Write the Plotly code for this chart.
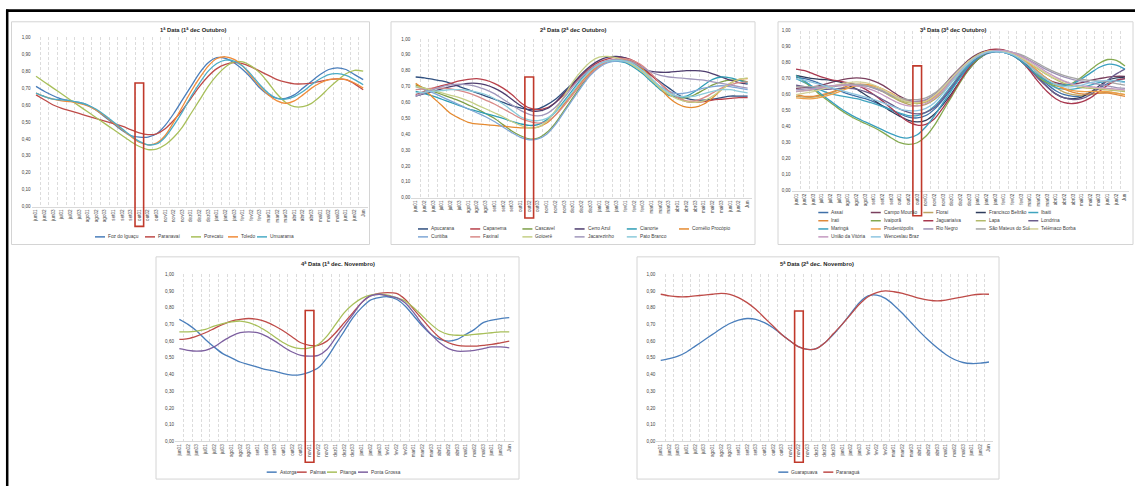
import plotly.graph_objects as go

W, H = 1135, 489

# ---------------- DATA ----------------
decendios = ["jun01", "jun02", "jun03", "jul01", "jul02", "jul03", "ago01", "ago02", "ago03",
             "set01", "set02", "set03", "out01", "out02", "out03", "nov01", "nov02", "nov03",
             "dez01", "dez02", "dez03", "jan01", "jan02", "jan03", "fev01", "fev02", "fev03",
             "mar01", "mar02", "mar03", "abr01", "abr02", "abr03", "mai01", "mai02", "mai03",
             "jun01", "jun02", "Jun"]
y_ticks = [0.0, 0.1, 0.2, 0.3, 0.4, 0.5, 0.6, 0.7, 0.8, 0.9, 1.0]

titles = ["1ª Data (1ª dec Outubro)", "2ª Data (2ª dec Outubro)", "3ª Data (3ª dec Outubro)",
          "4ª Data (1ª dec. Novembro)", "5ª Data (2ª dec. Novembro)"]
sowing = ["out01", "out02", "out03", "nov01", "nov02"]

# Chart 1
c1_names = ["Foz do Iguaçu", "Paranavaí", "Porecatu", "Toledo", "Umuarama"]
foz_do_iguacu = [0.71, 0.68, 0.655, 0.635, 0.625, 0.615, 0.60, 0.57, 0.53, 0.49, 0.45, 0.42, 0.41, 0.41, 0.43, 0.48, 0.55, 0.63, 0.71, 0.79, 0.85, 0.88, 0.875, 0.85, 0.81, 0.76, 0.70, 0.66, 0.64, 0.64, 0.66, 0.70, 0.74, 0.78, 0.81, 0.82, 0.81, 0.78, 0.75]
paranavai = [0.66, 0.63, 0.60, 0.58, 0.565, 0.55, 0.535, 0.52, 0.505, 0.49, 0.475, 0.455, 0.435, 0.425, 0.43, 0.46, 0.51, 0.57, 0.64, 0.71, 0.77, 0.815, 0.84, 0.85, 0.845, 0.825, 0.80, 0.775, 0.75, 0.735, 0.725, 0.725, 0.73, 0.74, 0.75, 0.755, 0.75, 0.725, 0.69]
porecatu = [0.77, 0.735, 0.70, 0.665, 0.63, 0.595, 0.56, 0.525, 0.49, 0.455, 0.42, 0.385, 0.355, 0.337, 0.34, 0.365, 0.41, 0.47, 0.55, 0.63, 0.71, 0.775, 0.825, 0.855, 0.855, 0.83, 0.79, 0.73, 0.665, 0.615, 0.59, 0.59, 0.61, 0.65, 0.70, 0.745, 0.785, 0.805, 0.80]
toledo = [0.67, 0.65, 0.635, 0.625, 0.62, 0.61, 0.595, 0.57, 0.535, 0.495, 0.455, 0.415, 0.38, 0.365, 0.375, 0.42, 0.50, 0.59, 0.68, 0.76, 0.83, 0.875, 0.885, 0.87, 0.83, 0.77, 0.71, 0.66, 0.625, 0.61, 0.625, 0.66, 0.70, 0.73, 0.75, 0.755, 0.75, 0.73, 0.70]
umuarama = [0.67, 0.65, 0.635, 0.63, 0.625, 0.615, 0.60, 0.575, 0.54, 0.50, 0.46, 0.42, 0.385, 0.365, 0.37, 0.41, 0.48, 0.56, 0.65, 0.73, 0.80, 0.845, 0.865, 0.86, 0.83, 0.78, 0.72, 0.67, 0.64, 0.635, 0.65, 0.68, 0.72, 0.755, 0.78, 0.785, 0.775, 0.75, 0.72]

# Chart 2
c2_names = ["Apucarana", "Capanema", "Cascavel", "Cerro Azul", "Cianorte", "Cornélio Procópio",
            "Curitiba", "Faxinal", "Goioerê", "Jacarezinho", "Pato Branco"]
apucarana = [0.76, 0.755, 0.745, 0.735, 0.72, 0.70, 0.68, 0.66, 0.64, 0.62, 0.60, 0.58, 0.565, 0.555, 0.56, 0.585, 0.62, 0.67, 0.72, 0.77, 0.81, 0.84, 0.86, 0.865, 0.86, 0.84, 0.81, 0.77, 0.73, 0.69, 0.65, 0.625, 0.615, 0.615, 0.62, 0.63, 0.64, 0.64, 0.64]
capanema = [0.65, 0.67, 0.69, 0.705, 0.72, 0.735, 0.745, 0.75, 0.74, 0.72, 0.69, 0.65, 0.60, 0.565, 0.555, 0.565, 0.60, 0.65, 0.71, 0.77, 0.82, 0.855, 0.875, 0.885, 0.88, 0.86, 0.82, 0.77, 0.72, 0.67, 0.63, 0.605, 0.60, 0.605, 0.615, 0.62, 0.625, 0.63, 0.63]
cascavel = [0.71, 0.69, 0.67, 0.65, 0.63, 0.61, 0.585, 0.56, 0.53, 0.50, 0.46, 0.42, 0.39, 0.37, 0.375, 0.41, 0.47, 0.55, 0.63, 0.71, 0.78, 0.83, 0.86, 0.865, 0.855, 0.83, 0.79, 0.74, 0.69, 0.65, 0.63, 0.63, 0.65, 0.68, 0.71, 0.73, 0.74, 0.74, 0.73]
cerro_azul = [0.64, 0.655, 0.67, 0.685, 0.70, 0.71, 0.72, 0.72, 0.71, 0.69, 0.66, 0.62, 0.58, 0.55, 0.545, 0.56, 0.60, 0.66, 0.72, 0.78, 0.83, 0.865, 0.885, 0.89, 0.88, 0.85, 0.81, 0.795, 0.79, 0.79, 0.795, 0.80, 0.80, 0.795, 0.78, 0.76, 0.74, 0.725, 0.715]
cianorte = [0.67, 0.655, 0.64, 0.62, 0.60, 0.58, 0.56, 0.545, 0.53, 0.515, 0.50, 0.48, 0.465, 0.455, 0.46, 0.49, 0.54, 0.61, 0.68, 0.75, 0.80, 0.84, 0.86, 0.86, 0.85, 0.82, 0.78, 0.73, 0.68, 0.645, 0.635, 0.64, 0.67, 0.71, 0.745, 0.76, 0.755, 0.74, 0.72]
cornelio_procopio = [0.72, 0.68, 0.63, 0.58, 0.53, 0.50, 0.475, 0.465, 0.46, 0.455, 0.45, 0.445, 0.44, 0.44, 0.445, 0.47, 0.52, 0.59, 0.66, 0.73, 0.79, 0.83, 0.86, 0.87, 0.87, 0.85, 0.81, 0.75, 0.69, 0.63, 0.59, 0.57, 0.57, 0.59, 0.63, 0.68, 0.72, 0.745, 0.75]
curitiba = [0.70, 0.68, 0.66, 0.635, 0.61, 0.585, 0.56, 0.535, 0.51, 0.48, 0.445, 0.41, 0.38, 0.365, 0.37, 0.40, 0.46, 0.54, 0.62, 0.70, 0.77, 0.82, 0.85, 0.86, 0.855, 0.83, 0.79, 0.74, 0.70, 0.67, 0.655, 0.66, 0.675, 0.69, 0.70, 0.705, 0.70, 0.69, 0.68]
faxinal = [0.68, 0.685, 0.69, 0.69, 0.685, 0.675, 0.66, 0.64, 0.615, 0.59, 0.56, 0.53, 0.50, 0.48, 0.47, 0.48, 0.52, 0.58, 0.65, 0.72, 0.78, 0.83, 0.86, 0.875, 0.875, 0.86, 0.83, 0.78, 0.72, 0.67, 0.63, 0.61, 0.61, 0.63, 0.66, 0.69, 0.71, 0.725, 0.73]
goioere = [0.70, 0.69, 0.675, 0.66, 0.645, 0.63, 0.61, 0.585, 0.56, 0.535, 0.51, 0.48, 0.455, 0.44, 0.445, 0.48, 0.55, 0.64, 0.73, 0.80, 0.855, 0.885, 0.89, 0.88, 0.86, 0.83, 0.79, 0.74, 0.69, 0.65, 0.62, 0.605, 0.60, 0.61, 0.64, 0.68, 0.72, 0.745, 0.755]
jacarezinho = [0.64, 0.66, 0.68, 0.70, 0.71, 0.715, 0.71, 0.70, 0.68, 0.655, 0.62, 0.585, 0.55, 0.525, 0.515, 0.53, 0.57, 0.63, 0.70, 0.76, 0.81, 0.845, 0.865, 0.87, 0.865, 0.85, 0.82, 0.79, 0.77, 0.76, 0.755, 0.75, 0.745, 0.74, 0.73, 0.72, 0.71, 0.70, 0.69]
pato_branco = [0.66, 0.665, 0.67, 0.675, 0.68, 0.68, 0.675, 0.665, 0.65, 0.625, 0.59, 0.55, 0.51, 0.49, 0.485, 0.50, 0.54, 0.60, 0.67, 0.74, 0.80, 0.84, 0.86, 0.865, 0.86, 0.84, 0.80, 0.75, 0.70, 0.66, 0.64, 0.635, 0.64, 0.655, 0.67, 0.68, 0.68, 0.67, 0.66]

# Chart 3
c3_names = ["Assaí", "Campo Mourão", "Floraí", "Francisco Beltrão", "Ibaiti",
            "Irati", "Ivaiporã", "Jaguariaíva", "Lapa", "Londrina",
            "Maringá", "Prudentópolis", "Rio Negro", "São Mateus do Sul", "Telêmaco Borba",
            "União da Vitória", "Wenceslau Braz"]
assai = [0.71, 0.70, 0.685, 0.665, 0.645, 0.625, 0.605, 0.59, 0.575, 0.555, 0.53, 0.505, 0.48, 0.46, 0.455, 0.47, 0.51, 0.57, 0.64, 0.71, 0.77, 0.82, 0.855, 0.87, 0.87, 0.85, 0.81, 0.76, 0.71, 0.665, 0.625, 0.60, 0.59, 0.595, 0.615, 0.64, 0.67, 0.69, 0.70]
campo_mourao = [0.64, 0.645, 0.65, 0.66, 0.675, 0.69, 0.70, 0.705, 0.70, 0.685, 0.66, 0.625, 0.59, 0.565, 0.555, 0.565, 0.60, 0.655, 0.715, 0.77, 0.82, 0.855, 0.875, 0.88, 0.875, 0.855, 0.82, 0.78, 0.74, 0.70, 0.675, 0.665, 0.665, 0.675, 0.69, 0.70, 0.71, 0.715, 0.715]
florai = [0.59, 0.585, 0.585, 0.595, 0.61, 0.63, 0.645, 0.655, 0.655, 0.645, 0.62, 0.59, 0.56, 0.54, 0.53, 0.54, 0.57, 0.62, 0.68, 0.74, 0.80, 0.845, 0.87, 0.88, 0.875, 0.855, 0.82, 0.78, 0.73, 0.685, 0.645, 0.615, 0.60, 0.595, 0.60, 0.61, 0.615, 0.61, 0.60]
francisco_beltrao = [0.72, 0.71, 0.70, 0.695, 0.69, 0.68, 0.66, 0.635, 0.60, 0.565, 0.53, 0.495, 0.465, 0.44, 0.43, 0.44, 0.48, 0.54, 0.61, 0.69, 0.76, 0.82, 0.86, 0.875, 0.875, 0.855, 0.82, 0.765, 0.705, 0.65, 0.605, 0.58, 0.575, 0.585, 0.615, 0.655, 0.69, 0.705, 0.71]
ibaiti = [0.70, 0.675, 0.65, 0.625, 0.605, 0.595, 0.585, 0.575, 0.56, 0.545, 0.525, 0.505, 0.485, 0.47, 0.47, 0.49, 0.53, 0.59, 0.66, 0.73, 0.79, 0.835, 0.86, 0.87, 0.865, 0.845, 0.81, 0.76, 0.715, 0.675, 0.645, 0.635, 0.635, 0.645, 0.66, 0.675, 0.685, 0.69, 0.68]
irati = [0.60, 0.59, 0.59, 0.60, 0.615, 0.635, 0.655, 0.665, 0.665, 0.655, 0.635, 0.605, 0.575, 0.555, 0.545, 0.555, 0.59, 0.64, 0.70, 0.76, 0.81, 0.845, 0.865, 0.875, 0.87, 0.85, 0.82, 0.78, 0.74, 0.70, 0.665, 0.635, 0.615, 0.605, 0.605, 0.61, 0.61, 0.60, 0.59]
ivaipora = [0.72, 0.68, 0.635, 0.59, 0.55, 0.51, 0.475, 0.445, 0.42, 0.395, 0.365, 0.33, 0.30, 0.29, 0.30, 0.34, 0.41, 0.50, 0.59, 0.68, 0.76, 0.82, 0.86, 0.875, 0.87, 0.85, 0.81, 0.76, 0.71, 0.675, 0.655, 0.655, 0.675, 0.71, 0.755, 0.795, 0.82, 0.815, 0.78]
jaguariaiva = [0.76, 0.75, 0.73, 0.71, 0.695, 0.685, 0.675, 0.66, 0.635, 0.60, 0.56, 0.515, 0.47, 0.43, 0.41, 0.415, 0.45, 0.52, 0.60, 0.69, 0.77, 0.83, 0.875, 0.885, 0.88, 0.855, 0.81, 0.75, 0.68, 0.62, 0.575, 0.55, 0.545, 0.555, 0.58, 0.62, 0.66, 0.69, 0.70]
lapa = [0.62, 0.625, 0.63, 0.64, 0.65, 0.66, 0.665, 0.665, 0.66, 0.645, 0.62, 0.59, 0.565, 0.55, 0.545, 0.555, 0.585, 0.635, 0.695, 0.755, 0.81, 0.85, 0.87, 0.875, 0.87, 0.855, 0.83, 0.795, 0.76, 0.725, 0.695, 0.67, 0.655, 0.645, 0.64, 0.635, 0.63, 0.625, 0.62]
londrina = [0.66, 0.65, 0.64, 0.635, 0.635, 0.64, 0.64, 0.635, 0.62, 0.60, 0.57, 0.54, 0.51, 0.49, 0.48, 0.49, 0.52, 0.58, 0.65, 0.72, 0.78, 0.83, 0.86, 0.87, 0.865, 0.845, 0.81, 0.76, 0.70, 0.65, 0.605, 0.58, 0.57, 0.575, 0.60, 0.64, 0.69, 0.73, 0.76]
maringa = [0.72, 0.685, 0.645, 0.60, 0.56, 0.52, 0.485, 0.455, 0.43, 0.405, 0.38, 0.355, 0.335, 0.33, 0.35, 0.40, 0.47, 0.55, 0.63, 0.71, 0.78, 0.83, 0.86, 0.87, 0.865, 0.845, 0.81, 0.765, 0.72, 0.685, 0.665, 0.66, 0.67, 0.70, 0.735, 0.77, 0.79, 0.785, 0.76]
prudentopolis = [0.58, 0.575, 0.575, 0.585, 0.60, 0.62, 0.64, 0.655, 0.66, 0.655, 0.635, 0.61, 0.58, 0.56, 0.55, 0.56, 0.59, 0.64, 0.70, 0.76, 0.81, 0.845, 0.87, 0.875, 0.875, 0.86, 0.83, 0.79, 0.745, 0.70, 0.665, 0.64, 0.625, 0.62, 0.62, 0.62, 0.62, 0.61, 0.60]
rio_negro = [0.63, 0.635, 0.64, 0.645, 0.65, 0.655, 0.66, 0.66, 0.655, 0.64, 0.62, 0.595, 0.575, 0.56, 0.56, 0.57, 0.60, 0.645, 0.70, 0.755, 0.805, 0.84, 0.865, 0.875, 0.875, 0.865, 0.845, 0.815, 0.785, 0.755, 0.73, 0.71, 0.695, 0.685, 0.675, 0.665, 0.655, 0.645, 0.64]
sao_mateus_do_sul = [0.65, 0.65, 0.65, 0.65, 0.655, 0.66, 0.665, 0.665, 0.66, 0.645, 0.625, 0.60, 0.58, 0.57, 0.57, 0.58, 0.61, 0.655, 0.71, 0.765, 0.81, 0.845, 0.865, 0.875, 0.875, 0.865, 0.85, 0.825, 0.795, 0.765, 0.74, 0.72, 0.705, 0.695, 0.69, 0.685, 0.68, 0.67, 0.66]
telemaco_borba = [0.60, 0.61, 0.62, 0.635, 0.65, 0.665, 0.675, 0.68, 0.675, 0.66, 0.635, 0.605, 0.575, 0.555, 0.55, 0.56, 0.595, 0.645, 0.705, 0.76, 0.81, 0.845, 0.87, 0.875, 0.87, 0.855, 0.83, 0.80, 0.765, 0.73, 0.70, 0.68, 0.665, 0.655, 0.645, 0.64, 0.635, 0.63, 0.625]
uniao_da_vitoria = [0.62, 0.625, 0.635, 0.645, 0.655, 0.66, 0.66, 0.655, 0.645, 0.625, 0.60, 0.57, 0.545, 0.53, 0.53, 0.545, 0.58, 0.63, 0.69, 0.75, 0.80, 0.84, 0.865, 0.875, 0.875, 0.865, 0.84, 0.81, 0.775, 0.74, 0.71, 0.685, 0.665, 0.655, 0.65, 0.645, 0.64, 0.635, 0.63]
wenceslau_braz = [0.70, 0.69, 0.675, 0.66, 0.645, 0.63, 0.615, 0.60, 0.585, 0.57, 0.55, 0.53, 0.51, 0.50, 0.50, 0.515, 0.55, 0.61, 0.68, 0.745, 0.80, 0.84, 0.865, 0.87, 0.865, 0.85, 0.82, 0.78, 0.735, 0.695, 0.665, 0.65, 0.65, 0.66, 0.675, 0.685, 0.69, 0.685, 0.675]

# Chart 4
c4_names = ["Astorga", "Palmas", "Pitanga", "Ponta Grossa"]
astorga = [0.73, 0.70, 0.66, 0.61, 0.565, 0.525, 0.50, 0.475, 0.46, 0.445, 0.43, 0.42, 0.405, 0.397, 0.40, 0.415, 0.44, 0.50, 0.58, 0.66, 0.74, 0.80, 0.845, 0.86, 0.865, 0.85, 0.81, 0.75, 0.69, 0.64, 0.61, 0.60, 0.61, 0.64, 0.67, 0.71, 0.725, 0.735, 0.74]
palmas = [0.61, 0.615, 0.63, 0.65, 0.675, 0.70, 0.72, 0.73, 0.735, 0.73, 0.715, 0.69, 0.66, 0.625, 0.59, 0.575, 0.575, 0.60, 0.65, 0.71, 0.77, 0.83, 0.87, 0.885, 0.89, 0.885, 0.85, 0.79, 0.73, 0.67, 0.62, 0.59, 0.575, 0.57, 0.57, 0.575, 0.58, 0.59, 0.60]
pitanga = [0.655, 0.655, 0.66, 0.67, 0.69, 0.705, 0.715, 0.72, 0.71, 0.69, 0.66, 0.625, 0.59, 0.565, 0.555, 0.56, 0.58, 0.63, 0.70, 0.77, 0.82, 0.855, 0.875, 0.88, 0.875, 0.86, 0.84, 0.80, 0.75, 0.70, 0.66, 0.64, 0.635, 0.635, 0.64, 0.645, 0.65, 0.655, 0.655]
ponta_grossa = [0.555, 0.545, 0.54, 0.545, 0.565, 0.60, 0.63, 0.65, 0.655, 0.65, 0.63, 0.60, 0.565, 0.535, 0.515, 0.51, 0.515, 0.55, 0.62, 0.69, 0.76, 0.83, 0.87, 0.88, 0.87, 0.86, 0.83, 0.77, 0.70, 0.64, 0.59, 0.555, 0.54, 0.54, 0.545, 0.555, 0.565, 0.565, 0.56]

# Chart 5
c5_names = ["Guarapuava", "Paranaguá"]
guarapuava = [0.485, 0.495, 0.51, 0.535, 0.57, 0.605, 0.64, 0.675, 0.705, 0.725, 0.735, 0.73, 0.71, 0.68, 0.64, 0.60, 0.565, 0.55, 0.555, 0.59, 0.64, 0.70, 0.765, 0.83, 0.87, 0.875, 0.855, 0.815, 0.765, 0.71, 0.655, 0.605, 0.56, 0.52, 0.49, 0.472, 0.466, 0.468, 0.475]
paranagua = [0.88, 0.87, 0.865, 0.865, 0.87, 0.875, 0.88, 0.885, 0.88, 0.86, 0.83, 0.79, 0.74, 0.69, 0.64, 0.60, 0.565, 0.55, 0.555, 0.59, 0.645, 0.70, 0.76, 0.82, 0.865, 0.89, 0.90, 0.895, 0.885, 0.87, 0.855, 0.845, 0.84, 0.845, 0.855, 0.865, 0.875, 0.88, 0.88]

charts_series = [
    [foz_do_iguacu, paranavai, porecatu, toledo, umuarama],
    [apucarana, capanema, cascavel, cerro_azul, cianorte, cornelio_procopio,
     curitiba, faxinal, goioere, jacarezinho, pato_branco],
    [assai, campo_mourao, florai, francisco_beltrao, ibaiti, irati, ivaipora, jaguariaiva,
     lapa, londrina, maringa, prudentopolis, rio_negro, sao_mateus_do_sul, telemaco_borba,
     uniao_da_vitoria, wenceslau_braz],
    [astorga, palmas, pitanga, ponta_grossa],
    [guarapuava, paranagua],
]
charts_names = [c1_names, c2_names, c3_names, c4_names, c5_names]

# ---------------- STYLE / LAYOUT ----------------
colors = [
    ["#4A7EBB", "#BE4B48", "#A8BF5A", "#F08C3A", "#4BACC6"],
    ["#2F4F7F", "#B8404A", "#7E9F48", "#4E3D6E", "#2E9DB5", "#E58A30",
     "#7FA7D6", "#D88A88", "#C5CF86", "#A197BC", "#8CCBDB"],
    ["#3F70A8", "#7A3F5E", "#BCA463", "#2E3C5C", "#3FA4BF", "#E08A3C", "#84A94F",
     "#A8384F", "#B3BA6A", "#6C5D8C", "#3A9FBF", "#EFA048", "#9C92B5", "#A6A6A6",
     "#D3CF97", "#C49AC0", "#8EC5E0"],
    ["#4A7EBB", "#BE4B48", "#A8BF5A", "#7D60A0"],
    ["#4A7EBB", "#BE4B48"],
]

# plot areas in px: left, top, right, bottom
PLOT = [(31.7, 35.7, 367.5, 206.7), (411.3, 37.3, 752.0, 197.7), (791.7, 29.0, 1129.3, 190.7),
        (175.0, 275.0, 513.6, 444.0), (656.4, 275.0, 993.3, 444.0)]
FRAME = [(11.5, 20, 369.5, 245), (391, 20, 755, 245), (778, 20, 1133, 245),
         (156, 257.5, 519, 482), (637, 257.5, 999, 482)]
TITLE_POS = [(193, 28), (573, 28), (953, 28), (338, 265), (817, 265)]
BOX_TOP = [0.73, 0.76, 0.78, 0.783, 0.78]
BOX_BOTTOM_PX = [226.7, 218.3, 216.0, 465.0, 465.0]
# legend: list of rows; each row: (y, [x of each entry])
LEGEND = [
    [(237.3, [95, 145, 191, 228, 257])],
    [(229.3, [418 + 52.2 * i for i in range(6)]), (237.3, [418 + 52.2 * i for i in range(5)])],
    [(212.7, [818.3 + 52.5 * i for i in range(5)]), (221.0, [818.3 + 52.5 * i for i in range(5)]),
     (229.3, [818.3 + 52.5 * i for i in range(5)]), (237.3, [818.3 + 52.5 * i for i in range(2)])],
    [(475, [266.7, 296.7, 327, 358])],
    [(475, [778.3, 823.3])],
]

FONT = "Liberation Sans, Arial, sans-serif"
TXT = "#404040"

fig = go.Figure()
shapes = []
annotations = []
layout = {}

xpos = list(range(len(decendios)))

for k in range(5):
    n = k + 1
    sfx = "" if n == 1 else str(n)
    xref, yref = "x" + sfx, "y" + sfx
    for name, vals, col in zip(charts_names[k], charts_series[k], colors[k]):
        assert len(vals) == len(decendios), name
        fig.add_trace(go.Scatter(
            x=xpos, y=vals, name=name, mode="lines", showlegend=False,
            line=dict(color=col, width=1.3, shape="spline", smoothing=0.8),
            xaxis=xref, yaxis=yref, hovertemplate=name + ": %{y:.2f}<extra></extra>"))

    l, t, r, b = PLOT[k]
    layout["xaxis" + sfx] = dict(
        domain=[l / W, r / W], anchor=yref, range=[-0.5, len(decendios) - 0.5],
        tickmode="array", tickvals=xpos, ticktext=decendios, tickangle=-90,
        tickfont=dict(size=4.6, color=TXT, family=FONT), ticks="",
        showgrid=False, zeroline=False, showline=True, linecolor="#D9D9D9", linewidth=1,
        minor=dict(tickmode="array", tickvals=[i - 0.5 for i in range(len(decendios) + 1)],
                   showgrid=True, gridcolor="#DCDCDC", gridwidth=0.8, griddash="3px,2px", ticks=""),
        fixedrange=True)
    layout["yaxis" + sfx] = dict(
        domain=[1 - b / H, 1 - t / H], anchor=xref, range=[0, 1],
        tickmode="array", tickvals=y_ticks, tickformat=".2f",
        tickfont=dict(size=4.6, color=TXT, family=FONT), ticks="",
        showgrid=False, zeroline=False, showline=False, fixedrange=True)

    # chart frame
    fl, ft, fr, fb = FRAME[k]
    shapes.append(dict(type="rect", xref="paper", yref="paper", x0=fl / W, x1=fr / W,
                       y0=1 - fb / H, y1=1 - ft / H, line=dict(color="#D4D4D4", width=1),
                       layer="below"))
    # title
    tx, ty = TITLE_POS[k]
    annotations.append(dict(text="<b>" + titles[k] + "</b>", x=tx / W, y=1 - ty / H,
                            xref="paper", yref="paper", xanchor="center", yanchor="middle",
                            showarrow=False, font=dict(size=5.8, color="#262626", family=FONT)))
    # sowing date highlight box
    idx = decendios.index(sowing[k])
    ph = b - t
    shapes.append(dict(type="rect", xref=xref, yref=yref + " domain",
                       x0=idx - 0.5, x1=idx + 0.5,
                       y0=-(BOX_BOTTOM_PX[k] - b) / ph, y1=BOX_TOP[k],
                       line=dict(color="#C0392B", width=1.6), layer="above"))
    # legend (Excel style)
    names = charts_names[k]
    cols = colors[k]
    j = 0
    for (ly, xs) in LEGEND[k]:
        for lx in xs:
            shapes.append(dict(type="line", xref="paper", yref="paper",
                               x0=lx / W, x1=(lx + 10) / W, y0=1 - ly / H, y1=1 - ly / H,
                               line=dict(color=cols[j], width=1.5)))
            annotations.append(dict(text=names[j], x=(lx + 11) / W, y=1 - ly / H,
                                    xref="paper", yref="paper", xanchor="left", yanchor="middle",
                                    showarrow=False, font=dict(size=4.8, color=TXT, family=FONT)))
            j += 1

# outer black frame of the page
shapes.append(dict(type="line", xref="paper", yref="paper", x0=6 / W, x1=1, y0=1 - 8.7 / H,
                   y1=1 - 8.7 / H, line=dict(color="black", width=2.8)))
shapes.append(dict(type="line", xref="paper", yref="paper", x0=7.2 / W, x1=7.2 / W, y0=0,
                   y1=1 - 7.5 / H, line=dict(color="black", width=2.5)))

fig.update_layout(
    width=W, height=H, margin=dict(l=0, r=0, t=0, b=0),
    paper_bgcolor="white", plot_bgcolor="white", separators=",.",
    font=dict(family=FONT, color=TXT), showlegend=False,
    shapes=shapes, annotations=annotations, **layout)

fig.write_html("out.html", config={"displayModeBar": False},
               post_script="document.body.style.margin='0';document.body.style.overflow='hidden';")
